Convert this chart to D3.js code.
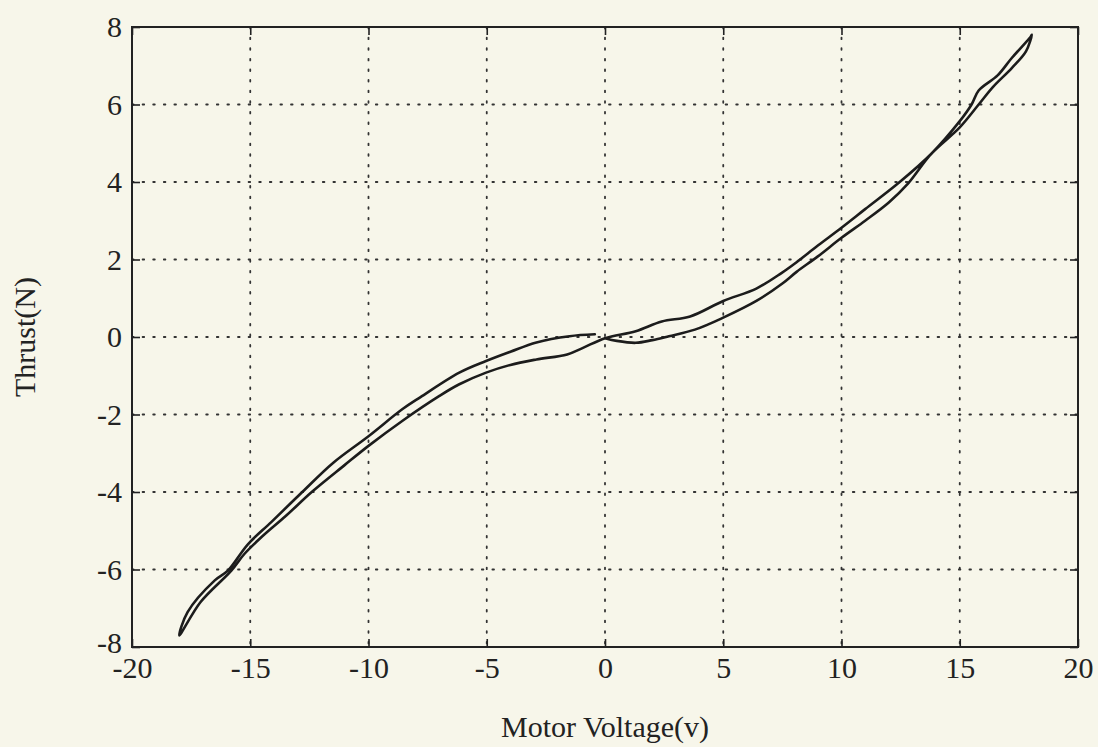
<!DOCTYPE html>
<html>
<head>
<meta charset="utf-8">
<script src="https://cdn.jsdelivr.net/npm/d3@7"></script>
<style>
  html, body { margin: 0; padding: 0; background: #f7f6ea; }
  svg { display: block; }
  text { font-family: "Liberation Serif", "Times New Roman", serif; fill: #222; }
</style>
</head>
<body>
<svg id="chart" width="1098" height="747"></svg>
<script>
// ---- data ----
const xTicks = [-20, -15, -10, -5, 0, 5, 10, 15, 20];
const yTicks = [-8, -6, -4, -2, 0, 2, 4, 6, 8];
const xLabel = "Motor Voltage(v)";
const yLabel = "Thrust(N)";

// hysteresis loop, in drawing order
const voltage = [
  0.0, 0.5, 1.3, 2.0, 2.7, 3.8, 5.0, 6.4, 7.5, 8.1, 9.0, 10.0, 11.0, 12.0, 12.8, 13.8, 15.0, 15.8, 16.4, 17.2, 17.8, 18.05,
  18.0, 17.2, 16.6, 15.8, 15.5, 15.0, 13.8, 12.46, 11.0, 10.0, 9.0, 8.1, 7.46, 6.4, 5.0, 3.6, 2.4, 1.3, 0.0,
  -0.93, -1.6, -2.9, -4.0, -5.03, -6.16, -7.0, -8.56, -10.0, -11.0, -12.4, -13.5, -14.5, -15.25, -15.8, -17.1, -18.0,
  -17.65, -16.5, -15.95, -15.1, -14.1, -12.8, -11.5, -10.0, -8.56, -7.8, -6.16, -5.03, -4.0, -2.9, -1.5, -0.43
];
const thrust = [
  -0.03, -0.1, -0.15, -0.08, 0.02, 0.19, 0.5, 0.93, 1.38, 1.68, 2.08, 2.56, 3.0, 3.47, 3.95, 4.73, 5.41, 6.0, 6.45, 6.94, 7.37, 7.8,
  7.75, 7.2, 6.75, 6.36, 6.0, 5.57, 4.73, 4.0, 3.3, 2.82, 2.36, 1.93, 1.65, 1.25, 0.93, 0.53, 0.4, 0.15, -0.03,
  -0.28, -0.45, -0.58, -0.72, -0.92, -1.22, -1.52, -2.16, -2.81, -3.3, -4.0, -4.62, -5.15, -5.6, -6.03, -6.84, -7.7,
  -7.1, -6.28, -6.03, -5.35, -4.77, -4.0, -3.25, -2.56, -1.86, -1.55, -0.92, -0.62, -0.38, -0.14, 0.02, 0.07
];

// ---- layout ----
const pLeft = 132, pRight = 1078, pTop = 27, pBottom = 647;
const svg = d3.select("#chart");
svg.append("rect").attr("width", 1098).attr("height", 747).attr("fill", "#f7f6ea");

const x = d3.scaleLinear().domain([-20, 20]).range([pLeft, pRight]);
const y = d3.scaleLinear().domain([-8, 8]).range([pBottom, pTop]);

const ink = "#222";
const grid = svg.append("g");
grid.selectAll("line.gx").data(xTicks.slice(1, -1)).enter().append("line")
  .attr("x1", d => x(d)).attr("x2", d => x(d))
  .attr("y1", pTop).attr("y2", pBottom)
  .attr("stroke", "#333").attr("stroke-width", 1.8)
  .attr("stroke-dasharray", "1.6 9").attr("stroke-linecap", "round");
grid.selectAll("line.gy").data(yTicks.slice(1, -1)).enter().append("line")
  .attr("y1", d => y(d)).attr("y2", d => y(d))
  .attr("x1", pLeft).attr("x2", pRight)
  .attr("stroke", "#333").attr("stroke-width", 1.8)
  .attr("stroke-dasharray", "1.6 9").attr("stroke-linecap", "round");

const fmt = d => String(d).replace("\u2212", "-");
const tick = 8;
const xb = svg.append("g").attr("transform", `translate(0,${pBottom})`)
  .call(d3.axisBottom(x).tickValues(xTicks).tickSize(-tick).tickPadding(12).tickFormat(fmt));
const xt = svg.append("g").attr("transform", `translate(0,${pTop})`)
  .call(d3.axisTop(x).tickValues(xTicks).tickSize(-tick).tickFormat(""));
const yl = svg.append("g").attr("transform", `translate(${pLeft},0)`)
  .call(d3.axisLeft(y).tickValues(yTicks).tickSize(-tick).tickPadding(10).tickFormat(fmt));
const yr = svg.append("g").attr("transform", `translate(${pRight},0)`)
  .call(d3.axisRight(y).tickValues(yTicks).tickSize(-tick).tickFormat(""));
[xb, xt, yl, yr].forEach(g => {
  g.select(".domain").remove();
  g.selectAll(".tick line").attr("stroke", ink).attr("stroke-width", 1.6);
  g.selectAll("text").attr("font-size", 30).attr("fill", ink)
    .style("font-family", "'Liberation Serif', serif");
});
xb.selectAll("text").attr("y", 10).attr("dy", "0.71em");
yl.selectAll("text").attr("x", -10).attr("dy", "0.32em");
yl.selectAll("text").filter(d => d === -8).attr("y", -4);

svg.append("rect").attr("x", pLeft).attr("y", pTop)
  .attr("width", pRight - pLeft).attr("height", pBottom - pTop)
  .attr("fill", "none").attr("stroke", ink).attr("stroke-width", 2);

const pts = voltage.map((v, i) => [v, thrust[i]]);
const line = d3.line().x(d => x(d[0])).y(d => y(d[1])).curve(d3.curveCatmullRom.alpha(0.5));
svg.append("path").datum(pts).attr("d", line)
  .attr("fill", "none").attr("stroke", "#1c1c1c").attr("stroke-width", 2.6)
  .attr("stroke-linejoin", "round").attr("stroke-linecap", "round");

svg.append("text").attr("x", (pLeft + pRight) / 2).attr("y", 737)
  .attr("text-anchor", "middle").attr("font-size", 30).text(xLabel);
svg.append("text").attr("transform", `translate(35,337) rotate(-90)`)
  .attr("text-anchor", "middle").attr("font-size", 30).text(yLabel);
</script>
</body>
</html>
